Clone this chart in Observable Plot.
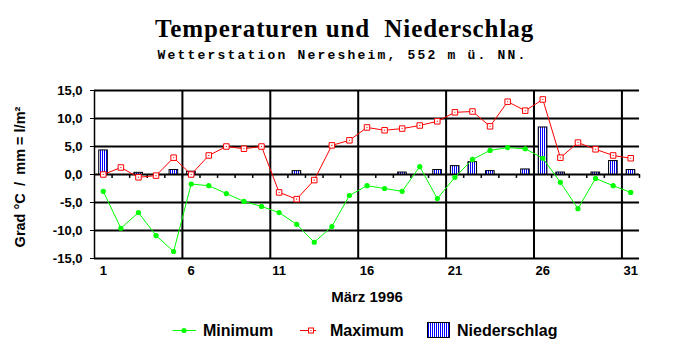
<!DOCTYPE html>
<html>
<head>
<meta charset="utf-8">
<script src="https://cdn.jsdelivr.net/npm/d3@7"></script>
<script src="https://cdn.jsdelivr.net/npm/@observablehq/plot@0.6"></script>
<style>
  html, body { margin: 0; padding: 0; background: white; }
  #wrap { position: relative; width: 687px; height: 355px; overflow: hidden; background: white; }
  .abs { position: absolute; white-space: pre; }
  #title { left: 0; width: 689px; top: 16px; text-align: center; font-family: "Liberation Serif", "Times New Roman", serif; font-weight: bold; font-size: 25px; line-height: 25px; letter-spacing: 0.9px; color: black; }
  #subtitle { left: 0; width: 685px; top: 49px; text-align: center; font-family: "Liberation Mono", "Courier New", monospace; font-weight: bold; font-size: 13px; line-height: 13px; letter-spacing: 2.2px; color: black; }
  #ylabel { left: -80px; top: 169px; width: 200px; text-align: center; font-family: "Liberation Sans", Arial, sans-serif; font-weight: bold; font-size: 14.5px; line-height: 16px; transform: rotate(-90deg); transform-origin: 100px 8px; color: black; }
  #chart { left: 0; top: 75px; }
  .legtext { top: 323px; font-family: "Liberation Sans", Arial, sans-serif; font-weight: bold; font-size: 16px; line-height: 16px; color: black; }
  #legsvg { left: 0; top: 315px; }
</style>
</head>
<body>
<div id="wrap">
  <div id="title" class="abs">Temperaturen und  Niederschlag</div>
  <div id="subtitle" class="abs">Wetterstation Neresheim, 552 m ü. NN.</div>
  <svg id="legsvg" class="abs" width="687" height="40">
    <defs>
      <pattern id="dots" x="0" y="0" width="2" height="2" patternUnits="userSpaceOnUse">
        <rect x="0" y="0" width="2" height="2" fill="#ffffff"/>
        <rect x="0" y="0" width="1" height="2" fill="#0000ff"/>
      </pattern>
    </defs>
    <line x1="172.5" x2="196" y1="15.5" y2="15.5" stroke="#00ff00" stroke-width="1"/>
    <circle cx="184" cy="15.5" r="2.6" fill="#00ff00"/>
    <line x1="300" x2="316" y1="15.5" y2="15.5" stroke="#ff0000" stroke-width="1"/>
    <rect x="308.5" y="13" width="5" height="5" fill="white" stroke="#ff0000" stroke-width="1"/>
    <rect x="310.5" y="15" width="1" height="1" fill="#ff0000"/>
    <rect x="427.5" y="7.5" width="22" height="15" fill="url(#dots)" stroke="black" stroke-width="1"/>
  </svg>
  <div class="abs legtext" style="left:203px">Minimum</div>
  <div class="abs legtext" style="left:330px">Maximum</div>
  <div class="abs legtext" style="left:457px">Niederschlag</div>
  <div id="chart" class="abs"></div>
  <div id="ylabel" class="abs"></div>
</div>
<script>
// ---- data ----
const days = d3.range(1, 32); // 1..31 March 1996
const tMin = [-3.0, -9.6, -6.8, -10.9, -13.75, -1.7, -2.0, -3.4, -4.8, -5.7,
              -6.8, -8.9, -12.1, -9.3, -3.75, -2.0, -2.5, -3.0, 1.4, -4.3,
              -0.5, 2.7, 4.3, 4.8, 4.6, 2.9, -1.4, -6.1, -0.7, -2.0, -3.2];
const tMax = [0.0, 1.25, -0.5, -0.2, 3.0, 0.0, 3.4, 5.0, 4.6, 5.0,
              -3.2, -4.4, -1.0, 5.2, 6.1, 8.4, 7.9, 8.2, 8.75, 9.5,
              11.1, 11.25, 8.6, 13.0, 11.4, 13.4, 3.0, 5.7, 4.5, 3.4, 2.9];
const precip = [4.3, 0, 0.3, 0, 0.8, 0.5, 0, 0, 0, 0,
                0, 0.6, 0, 0, 0, 0, 0, 0.35, 0, 0.8,
                1.5, 2.2, 0.6, 0, 0.9, 8.4, 0.35, 0, 0.35, 2.4, 0.8];
const yTicks = [-15, -10, -5, 0, 5, 10, 15];
const xTickLabels = [1, 6, 11, 16, 21, 26, 31];
const xLabel = "März 1996";
const yLabel = "Grad °C\u2002/\u2002mm = l/m²";

// ---- derived tables ----
const minData = days.map((d, i) => ({day: d, v: tMin[i]}));
const maxData = days.map((d, i) => ({day: d, v: tMax[i]}));
const rainData = days.map((d, i) => ({day: d, mm: precip[i]})).filter(d => d.mm > 0);
const gridX = xTickLabels.slice(1).map(d => d - 0.5);
const bounds = days.slice(1).map(d => d - 0.5).concat([31.5]);
const fmt = d => d.toFixed(1).replace(".", ",");

document.getElementById("ylabel").textContent = yLabel;

const chart = Plot.plot({
  width: 687,
  height: 240,
  marginLeft: 94,
  marginRight: 48,
  marginTop: 15,
  marginBottom: 57,
  x: {domain: [0.5, 31.5]},
  y: {domain: [-15, 15]},
  style: {fontFamily: "'Liberation Sans', Arial, sans-serif", fontSize: "13px", fontWeight: "bold", color: "black", background: "transparent", overflow: "visible"},
  marks: [
    Plot.ruleY(yTicks, {stroke: "black", strokeWidth: 2}),
    Plot.ruleX(gridX, {y1: -15, y2: 15, stroke: "black", strokeWidth: 2}),
    Plot.ruleX([0.5], {y1: -15, y2: 15, stroke: "black", strokeWidth: 1.5}),
    Plot.ruleX(bounds, {y1: 0, y2: -0.7, stroke: "black", strokeWidth: 1.5}),
    Plot.axisY({ticks: yTicks, tickSize: 4, tickPadding: 8, tickFormat: fmt, label: null}),
    Plot.axisX({ticks: xTickLabels, tickSize: 0, tickPadding: 7, tickFormat: d => String(d), label: null}),
    Plot.rect(rainData, {x1: d => d.day - 0.23, x2: d => d.day + 0.26, y1: 0, y2: "mm", fill: "url(#dots)", stroke: "black", strokeWidth: 1}),
    Plot.line(maxData, {x: "day", y: "v", stroke: "#ff0000", strokeWidth: 1}),
    Plot.line(minData, {x: "day", y: "v", stroke: "#00ff00", strokeWidth: 1}),
    Plot.dot(minData, {x: "day", y: "v", r: 2.6, fill: "#00ff00", stroke: "none"}),
    Plot.dot(maxData, {x: "day", y: "v", symbol: "square", r: 3.1, fill: "white", stroke: "#ff0000", strokeWidth: 1}),
    Plot.dot(maxData, {x: "day", y: "v", symbol: "square", r: 0.6, fill: "#ff0000", stroke: "none"}),
    Plot.text([xLabel], {frameAnchor: "bottom", dy: 43.2, fontSize: 15, fontWeight: "bold"})
  ]
});
document.getElementById("chart").appendChild(chart);
</script>
</body>
</html>
